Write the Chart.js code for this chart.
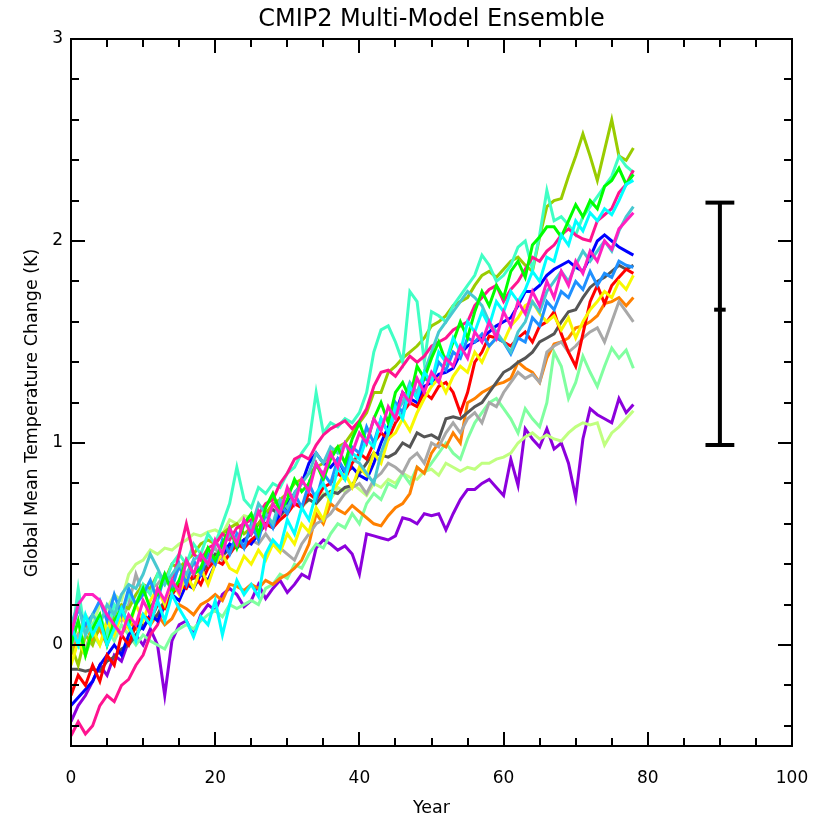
<!DOCTYPE html>
<html>
<head>
<meta charset="utf-8">
<title>CMIP2 Multi-Model Ensemble</title>
<script src="https://cdn.jsdelivr.net/npm/chart.js@4.4.1/dist/chart.umd.min.js"></script>
<style>
  html, body { margin: 0; padding: 0; background: #fff; }
  canvas { display: block; }
</style>
</head>
<body>
<canvas id="ensembleChart" width="819" height="821"></canvas>
<script>
// ============================================
// CMIP2 multi-model ensemble — global mean temperature change
// ============================================

// ---------- Data ----------
const years = Array.from({ length: 79 }, (_, i) => i);

const purple = [-0.38,-0.3,-0.25,-0.18,-0.1,-0.15,-0.05,-0.08,0.02,0.05,
  0.0,0.08,0.0,-0.25,0.02,0.1,0.12,0.05,0.15,0.2,
  0.17,0.25,0.28,0.25,0.19,0.22,0.3,0.23,0.28,0.32,
  0.26,0.3,0.35,0.33,0.48,0.52,0.5,0.47,0.49,0.45,
  0.35,0.55,0.54,0.53,0.52,0.54,0.63,0.62,0.6,0.65,
  0.64,0.65,0.57,0.65,0.72,0.77,0.77,0.8,0.82,0.78,
  0.74,0.92,0.79,1.07,1.02,0.98,1.07,0.97,1.0,0.9,
  0.73,1.02,1.17,1.14,1.12,1.1,1.22,1.15,1.19];

const paleGreen = [0.1,0.05,0.15,0.1,0.2,0.18,0.25,0.22,0.35,0.4,
  0.42,0.47,0.45,0.48,0.47,0.5,0.52,0.55,0.54,0.56,
  0.57,0.55,0.62,0.6,0.64,0.63,0.66,0.65,0.6,0.62,
  0.66,0.7,0.68,0.72,0.7,0.75,0.72,0.78,0.76,0.8,
  0.77,0.74,0.8,0.78,0.82,0.8,0.85,0.83,0.82,0.86,
  0.87,0.84,0.9,0.88,0.86,0.88,0.87,0.9,0.9,0.92,
  0.93,0.95,1.0,1.03,1.05,1.02,1.04,1.02,1.01,1.05,
  1.08,1.1,1.09,1.1,0.99,1.05,1.08,1.12,1.16];

const mint = [0.05,0.0,-0.05,0.05,0.0,0.08,0.02,0.1,0.05,0.0,
  0.05,0.02,0.0,-0.02,0.05,0.08,0.1,0.08,0.12,0.15,
  0.17,0.14,0.2,0.18,0.2,0.22,0.2,0.28,0.3,0.35,
  0.33,0.4,0.38,0.45,0.5,0.48,0.55,0.6,0.58,0.65,
  0.6,0.7,0.75,0.72,0.8,0.78,0.85,0.8,0.88,0.85,
  0.9,0.95,1.0,0.95,0.92,1.02,1.1,1.15,1.2,1.22,
  1.17,1.12,1.05,1.17,1.12,1.08,1.2,1.45,1.38,1.22,
  1.3,1.43,1.35,1.28,1.38,1.47,1.42,1.46,1.37];

const lightGrey = [0.0,0.05,-0.02,0.08,0.1,0.05,0.15,0.12,0.2,0.35,
  0.25,0.28,0.3,0.35,0.32,0.38,0.35,0.4,0.38,0.45,
  0.48,0.42,0.45,0.5,0.48,0.52,0.5,0.55,0.5,0.48,
  0.45,0.42,0.5,0.55,0.6,0.62,0.65,0.7,0.75,0.78,
  0.8,0.75,0.82,0.85,0.9,0.88,0.85,0.92,0.95,0.9,
  1.0,0.98,1.05,1.1,1.05,1.12,1.15,1.1,1.2,1.18,
  1.25,1.3,1.35,1.32,1.34,1.3,1.45,1.48,1.5,1.45,
  1.48,1.52,1.55,1.57,1.5,1.6,1.7,1.65,1.6];

const orange = [-0.05,0.05,0.1,0.02,0.08,0.0,0.1,0.05,0.12,0.08,
  0.15,0.1,0.15,0.1,0.13,0.2,0.18,0.15,0.2,0.22,
  0.25,0.22,0.3,0.29,0.27,0.3,0.28,0.32,0.3,0.33,
  0.35,0.38,0.42,0.5,0.65,0.6,0.7,0.67,0.65,0.69,
  0.66,0.63,0.6,0.59,0.64,0.68,0.7,0.75,0.88,0.85,
  0.95,1.0,0.98,1.05,1.0,1.2,1.22,1.25,1.27,1.29,
  1.3,1.32,1.4,1.37,1.35,1.3,1.42,1.49,1.5,1.52,
  1.57,1.58,1.6,1.63,1.69,1.7,1.72,1.68,1.72];

const darkGrey = [-0.12,-0.12,-0.13,-0.12,-0.13,-0.08,-0.06,-0.02,0.0,0.05,
  0.1,0.12,0.15,0.22,0.25,0.3,0.32,0.33,0.35,0.4,
  0.45,0.44,0.48,0.5,0.52,0.55,0.6,0.65,0.67,0.64,
  0.68,0.7,0.69,0.72,0.7,0.74,0.76,0.75,0.78,0.79,
  0.85,0.9,0.95,0.94,0.93,0.95,1.0,0.98,1.05,1.03,
  1.04,1.02,1.12,1.13,1.12,1.15,1.18,1.2,1.25,1.3,
  1.35,1.37,1.4,1.42,1.45,1.5,1.52,1.54,1.6,1.65,
  1.66,1.72,1.77,1.8,1.82,1.85,1.88,1.86,1.88];

const red = [-0.25,-0.15,-0.2,-0.1,-0.18,-0.05,-0.1,0.05,0.0,0.1,
  0.15,0.12,0.2,0.18,0.25,0.3,0.28,0.35,0.3,0.38,
  0.42,0.4,0.45,0.5,0.48,0.52,0.55,0.6,0.58,0.62,
  0.65,0.7,0.68,0.75,0.72,0.78,0.8,0.85,0.82,0.9,
  0.95,0.92,1.0,1.05,1.02,1.1,1.15,1.2,1.18,1.25,
  1.22,1.28,1.3,1.25,1.15,1.25,1.4,1.45,1.53,1.52,
  1.5,1.48,1.52,1.55,1.5,1.58,1.6,1.65,1.54,1.45,
  1.38,1.54,1.7,1.78,1.69,1.78,1.82,1.86,1.84];

const yellow = [-0.1,0.02,-0.05,0.08,0.0,0.12,0.05,0.15,0.08,0.2,
  0.12,0.22,0.28,0.2,0.32,0.25,0.35,0.28,0.38,0.3,
  0.4,0.45,0.38,0.36,0.44,0.4,0.47,0.42,0.5,0.46,
  0.55,0.5,0.6,0.56,0.68,0.62,0.75,0.8,0.85,0.78,
  0.88,0.84,0.95,0.9,1.02,1.05,1.12,1.06,1.15,1.22,
  1.28,1.32,1.25,1.33,1.38,1.35,1.45,1.4,1.48,1.52,
  1.5,1.58,1.62,1.68,1.7,1.64,1.6,1.63,1.56,1.62,
  1.52,1.6,1.66,1.7,1.75,1.72,1.8,1.76,1.83];

const blue = [-0.3,-0.26,-0.22,-0.18,-0.1,-0.05,0.0,-0.05,0.05,0.1,
  0.08,0.15,0.12,0.2,0.25,0.22,0.3,0.28,0.35,0.32,
  0.4,0.45,0.5,0.48,0.52,0.5,0.55,0.6,0.58,0.65,
  0.7,0.75,0.8,0.9,0.95,0.9,0.88,0.92,0.85,0.88,
  0.84,0.82,0.9,1.0,1.08,1.15,1.25,1.22,1.2,1.28,
  1.3,1.34,1.35,1.37,1.44,1.48,1.5,1.52,1.55,1.58,
  1.6,1.62,1.68,1.75,1.75,1.78,1.83,1.86,1.88,1.9,
  1.87,1.85,1.92,2.0,2.03,2.0,1.97,1.95,1.93];

const dodgerBlue = [0.05,0.18,0.1,0.15,0.22,0.12,0.25,0.15,0.28,0.2,
  0.25,0.32,0.22,0.35,0.28,0.4,0.3,0.42,0.35,0.45,
  0.4,0.52,0.45,0.55,0.48,0.6,0.52,0.65,0.58,0.7,
  0.65,0.75,0.68,0.8,0.72,0.85,0.8,0.92,0.86,0.98,
  0.95,1.08,1.0,1.12,1.05,1.2,1.15,1.28,1.22,1.32,
  1.3,1.4,1.36,1.45,1.42,1.52,1.5,1.54,1.48,1.52,
  1.5,1.44,1.52,1.5,1.62,1.58,1.7,1.66,1.75,1.72,
  1.8,1.76,1.85,1.78,1.84,1.82,1.9,1.88,1.87];

const turquoise = [0.1,0.2,0.05,0.15,0.1,0.2,0.15,0.25,0.3,0.28,
  0.35,0.45,0.38,0.3,0.35,0.4,0.35,0.42,0.45,0.4,
  0.5,0.48,0.55,0.52,0.6,0.58,0.7,0.65,0.6,0.72,
  0.68,0.75,0.8,0.85,0.95,0.9,0.98,0.95,1.0,0.92,
  0.9,0.85,0.8,0.95,1.05,1.15,1.2,1.3,1.25,1.35,
  1.45,1.55,1.6,1.65,1.7,1.75,1.72,1.68,1.6,1.55,
  1.5,1.45,1.55,1.6,1.7,1.65,1.75,1.8,1.85,1.8,
  1.88,1.95,1.9,1.95,2.0,1.95,2.05,2.12,2.17];

const aquamarine = [0.0,0.28,0.05,0.1,0.15,0.05,0.2,0.15,0.25,0.2,
  0.3,0.25,0.35,0.3,0.4,0.45,0.4,0.5,0.45,0.55,
  0.5,0.6,0.7,0.88,0.72,0.68,0.78,0.75,0.8,0.78,
  0.85,0.88,0.95,1.0,1.25,1.05,1.1,1.08,1.12,1.1,
  1.15,1.25,1.45,1.56,1.58,1.5,1.4,1.75,1.7,1.4,
  1.65,1.63,1.6,1.68,1.73,1.78,1.83,1.93,1.88,1.8,
  1.83,1.88,1.97,2.0,1.86,2.03,2.25,2.1,2.12,2.08,
  2.03,2.12,2.17,2.22,2.27,2.32,2.42,2.37,2.34];

const green = [0.0,0.12,-0.05,0.08,0.15,0.0,0.12,0.18,0.1,0.2,
  0.28,0.18,0.25,0.35,0.26,0.32,0.42,0.35,0.38,0.48,
  0.42,0.5,0.58,0.48,0.6,0.65,0.55,0.68,0.75,0.66,
  0.72,0.82,0.76,0.8,0.9,0.82,0.92,0.98,0.9,1.02,
  1.1,1.0,1.12,1.2,1.1,1.25,1.3,1.22,1.38,1.32,
  1.42,1.5,1.4,1.5,1.6,1.52,1.65,1.75,1.68,1.78,
  1.72,1.85,1.9,1.82,1.98,2.02,2.07,2.07,2.02,2.1,
  2.18,2.12,2.2,2.16,2.27,2.3,2.36,2.28,2.33];

const hotPink = [-0.45,-0.38,-0.44,-0.4,-0.3,-0.25,-0.28,-0.2,-0.17,-0.1,
  -0.05,0.05,0.1,0.2,0.3,0.45,0.6,0.45,0.42,0.48,
  0.5,0.55,0.52,0.58,0.6,0.62,0.65,0.7,0.72,0.8,
  0.85,0.92,0.94,0.92,0.99,1.04,1.07,1.09,1.11,1.07,
  1.11,1.17,1.28,1.35,1.36,1.33,1.38,1.43,1.4,1.43,
  1.48,1.5,1.52,1.56,1.58,1.6,1.68,1.72,1.76,1.78,
  1.7,1.76,1.8,1.86,1.92,1.9,1.95,1.98,2.03,2.06,
  2.03,2.01,2.0,2.1,2.13,2.16,2.24,2.28,2.35];

const cyan = [0.1,0.0,0.15,0.05,0.12,0.0,0.08,0.18,0.1,0.02,
  0.15,0.1,0.22,0.12,0.25,0.18,0.12,0.04,0.14,0.1,
  0.22,0.05,0.2,0.32,0.25,0.3,0.24,0.45,0.52,0.48,
  0.62,0.55,0.68,0.62,0.75,0.8,0.72,0.88,0.82,0.95,
  0.92,1.02,0.98,1.12,1.05,1.18,1.12,1.28,1.22,1.35,
  1.3,1.45,1.4,1.52,1.45,1.6,1.55,1.65,1.58,1.7,
  1.65,1.75,1.7,1.76,1.85,1.8,1.92,1.9,2.03,1.98,
  2.1,2.05,2.14,2.1,2.16,2.13,2.2,2.28,2.3];

const yellowGreen = [0.0,-0.1,0.05,0.0,0.1,0.05,0.15,0.2,0.18,0.25,
  0.3,0.28,0.35,0.32,0.4,0.38,0.42,0.45,0.5,0.52,
  0.5,0.55,0.58,0.6,0.55,0.58,0.6,0.65,0.7,0.72,
  0.75,0.8,0.82,0.85,0.88,0.9,0.95,0.98,1.0,1.05,
  1.1,1.15,1.25,1.25,1.35,1.38,1.42,1.45,1.48,1.52,
  1.58,1.6,1.63,1.68,1.7,1.72,1.78,1.83,1.85,1.82,
  1.86,1.9,1.92,1.88,1.85,2.02,2.17,2.2,2.21,2.32,
  2.42,2.53,2.42,2.3,2.45,2.6,2.42,2.4,2.46];

const magenta = [0.05,0.2,0.25,0.25,0.22,0.15,0.1,0.05,0.15,0.1,
  0.22,0.15,0.28,0.22,0.32,0.26,0.42,0.35,0.45,0.4,
  0.52,0.45,0.58,0.5,0.62,0.55,0.66,0.58,0.7,0.65,
  0.78,0.7,0.82,0.76,0.9,0.84,0.95,0.88,1.0,0.95,
  1.05,1.0,1.12,1.06,1.18,1.12,1.25,1.2,1.32,1.25,
  1.35,1.3,1.42,1.38,1.48,1.42,1.55,1.5,1.6,1.52,
  1.65,1.58,1.7,1.64,1.75,1.68,1.8,1.72,1.85,1.78,
  1.9,1.84,1.95,1.9,2.0,1.96,2.06,2.1,2.14];

// spread bar at the right: year, low, middle, high
const spreadYear = 90;
const spreadLow = 0.99;
const spreadMid = 1.66;
const spreadHigh = 2.19;

// axis ticks
const xMajorTicks = [0, 20, 40, 60, 80, 100];
const xMinorTicks = [5, 10, 15, 25, 30, 35, 45, 50, 55, 65, 70, 75, 85, 90, 95];
const yMajorTicks = [0, 1, 2, 3];
const yMinorTicks = [-0.4, -0.2, 0.2, 0.4, 0.6, 0.8, 1.2, 1.4, 1.6, 1.8, 2.2, 2.4, 2.6, 2.8];

const models = [
  { values: magenta, color: '#ff20c0' },
  { values: cyan, color: '#00ffff' },
  { values: green, color: '#00ff00' },
  { values: turquoise, color: '#48c8d0' },
  { values: dodgerBlue, color: '#1e90ff' },
  { values: yellow, color: '#f8f800' },
  { values: red, color: '#ff0000' },
  { values: blue, color: '#0000ff' },
  { values: hotPink, color: '#ff1490' },
  { values: aquamarine, color: '#40ffc4' },
  { values: yellowGreen, color: '#99cc00' },
  { values: darkGrey, color: '#555555' },
  { values: lightGrey, color: '#a8a8a8' },
  { values: orange, color: '#ff8000' },
  { values: mint, color: '#80ffa0' },
  { values: paleGreen, color: '#c0ff80' },
  { values: purple, color: '#8c00dc' }
];

const FONT = 'DejaVu Sans';

// ---------- Plugins ----------
// chart title and the y axis title (the latter sits a bit below the axis middle)
const chartTexts = {
  id: 'chartTexts',
  afterDraw(chart) {
    const { ctx, chartArea: a } = chart;
    ctx.save();
    ctx.fillStyle = '#000';
    ctx.textAlign = 'center';
    ctx.textBaseline = 'middle';
    ctx.font = '24px "' + FONT + '"';
    ctx.fillText('CMIP2 Multi-Model Ensemble', (a.left + a.right) / 2, 20);

    ctx.translate(32, 413);
    ctx.rotate(-Math.PI / 2);
    ctx.font = '17.5px "' + FONT + '"';
    ctx.fillText('Global Mean Temperature Change (K)', 0, 0);
    ctx.restore();
  }
};

// box round the plot with inward ticks on all four sides
const frameTicks = {
  id: 'frameTicks',
  afterDraw(chart) {
    const { ctx, chartArea: a, scales: { x, y } } = chart;
    ctx.save();
    ctx.strokeStyle = '#000';
    ctx.lineWidth = 2;
    ctx.strokeRect(a.left, a.top, a.right - a.left, a.bottom - a.top);

    const seg = (x1, y1, x2, y2) => {
      ctx.beginPath();
      ctx.moveTo(x1, y1);
      ctx.lineTo(x2, y2);
      ctx.stroke();
    };
    const xTick = (v, len) => {
      const px = Math.round(x.getPixelForValue(v));
      seg(px, a.bottom, px, a.bottom - len);
      seg(px, a.top, px, a.top + len);
    };
    const yTick = (v, len) => {
      const py = Math.round(y.getPixelForValue(v));
      seg(a.left, py, a.left + len, py);
      seg(a.right, py, a.right - len, py);
    };
    xMajorTicks.forEach(v => xTick(v, 14));
    xMinorTicks.forEach(v => xTick(v, 8));
    yMajorTicks.forEach(v => yTick(v, 14));
    yMinorTicks.forEach(v => yTick(v, 8));
    ctx.restore();
  }
};

// ---------- Chart ----------
function buildDatasets() {
  const lines = models.map(m => ({
    data: years.map((yr, i) => ({ x: yr, y: m.values[i] })),
    borderColor: m.color,
    borderWidth: 3,
    pointRadius: 0,
    tension: 0,
    fill: false
  }));

  const bar = (pts) => ({
    data: pts,
    borderColor: '#000',
    borderWidth: 4,
    pointRadius: 0,
    tension: 0,
    fill: false
  });
  lines.unshift(
    bar([{ x: spreadYear, y: spreadLow }, { x: spreadYear, y: spreadHigh }]),
    bar([{ x: spreadYear - 2, y: spreadHigh }, { x: spreadYear + 2, y: spreadHigh }]),
    bar([{ x: spreadYear - 2, y: spreadLow }, { x: spreadYear + 2, y: spreadLow }]),
    bar([{ x: spreadYear - 0.8, y: spreadMid }, { x: spreadYear + 0.8, y: spreadMid }])
  );
  return lines;
}

function renderChart() {
  const ctx = document.getElementById('ensembleChart').getContext('2d');

  new Chart(ctx, {
    type: 'line',
    data: { datasets: buildDatasets() },
    options: {
      responsive: false,
      animation: false,
      devicePixelRatio: 1,
      layout: { padding: { top: 39, right: 27, left: 0, bottom: 0 } },
      plugins: {
        legend: { display: false },
        tooltip: { enabled: false }
      },
      scales: {
        x: {
          type: 'linear',
          min: 0,
          max: 100,
          afterFit: s => {
            s.height = 75;
            s.paddingLeft = 0;
            s.paddingRight = 0;
          },
          grid: { display: false, drawTicks: false },
          border: { display: false },
          ticks: {
            stepSize: 20,
            padding: 22,
            color: '#000',
            maxRotation: 0,
            font: { family: FONT, size: 17 }
          },
          title: {
            display: true,
            text: 'Year',
            color: '#000',
            padding: { top: 0, bottom: 2.5 },
            font: { family: FONT, size: 17.5 }
          }
        },
        y: {
          type: 'linear',
          min: -0.5,
          max: 3,
          afterFit: s => { s.width = 71; },
          grid: { display: false, drawTicks: false },
          border: { display: false },
          ticks: {
            stepSize: 1,
            padding: 8,
            color: '#000',
            autoSkip: false,
            font: { family: FONT, size: 17 },
            callback: v => (Math.abs(v - Math.round(v)) < 1e-6 ? String(Math.round(v)) : '')
          }
        }
      }
    },
    plugins: [chartTexts, frameTicks]
  });
}

document.addEventListener('DOMContentLoaded', renderChart);
</script>
</body>
</html>
